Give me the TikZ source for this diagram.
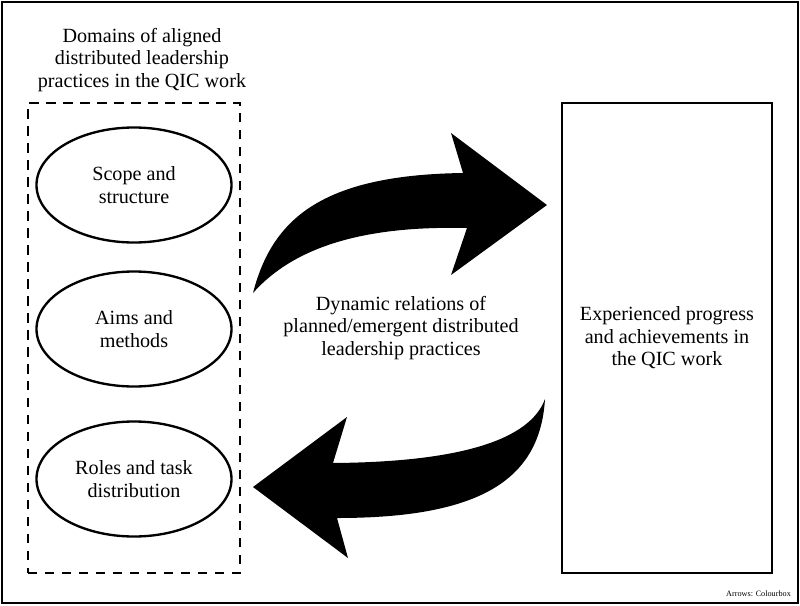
\documentclass[tikz,border=0pt]{standalone}
\usepackage{fontspec}
\setmainfont{Liberation Serif}
\usetikzlibrary{shapes.geometric}
\tikzset{
  practice/.style={ellipse, draw, line width=2pt, minimum width=5.85cm, minimum height=3.45cm, inner sep=0pt},
  bigarrow/.style={fill=black, draw=none}
}
\begin{document}
\begin{tikzpicture}[x=0.03cm, y=-0.03cm, every node/.style={font=\fontsize{17.2}{19.3}\selectfont, align=center}]
  \useasboundingbox (0,0) rectangle (800,605);
  \draw[line width=1.8pt] (2,2) rectangle (798,603);
  % left column
  \node (title) at (142,60) {Domains of aligned\\distributed leadership\\practices in the QIC work};
  \node[draw, line width=2.3pt, dash pattern=on 8pt off 6.5pt, minimum width=6.36cm, minimum height=14.1cm] (frame) at (134,338) {};
  \foreach \n/\y/\txt in {scope/185/{Scope and\\structure}, aims/329/{Aims and\\methods}, roles/479/{Roles and task\\distribution}}
    \node[practice] (\n) at (134,\y) {\txt};
  % right box and middle text
  \node[draw, line width=1.9pt, minimum width=6.3cm, minimum height=14.1cm] (progress) at (667,338) {Experienced progress\\and achievements in\\the QIC work};
  \node (relations) at (401,328) {Dynamic relations of\\planned/emergent distributed\\leadership practices};
  % arrows
  \coordinate (upTail) at (253,293); \coordinate (upTip) at (547,205);
  \coordinate (loTail) at (545,399); \coordinate (loTip) at (253,487);
  \fill[bigarrow] (upTail) .. controls (272,220) and (320,175) .. (463,173) -- (451,133) -- (upTip)
    -- (451,275) -- (467,228) .. controls (380,226) and (300,240) .. (upTail) -- cycle;
  \fill[bigarrow] (loTail) .. controls (530,440) and (460,462) .. (333,463) -- (347,417) -- (loTip)
    -- (348,558) -- (337,518) .. controls (480,518) and (540,480) .. (loTail) -- cycle;
  \node[font=\fontsize{7}{8}\selectfont, anchor=east] (credit) at (795,594) {Arrows: Colourbox};
\end{tikzpicture}
\end{document}
